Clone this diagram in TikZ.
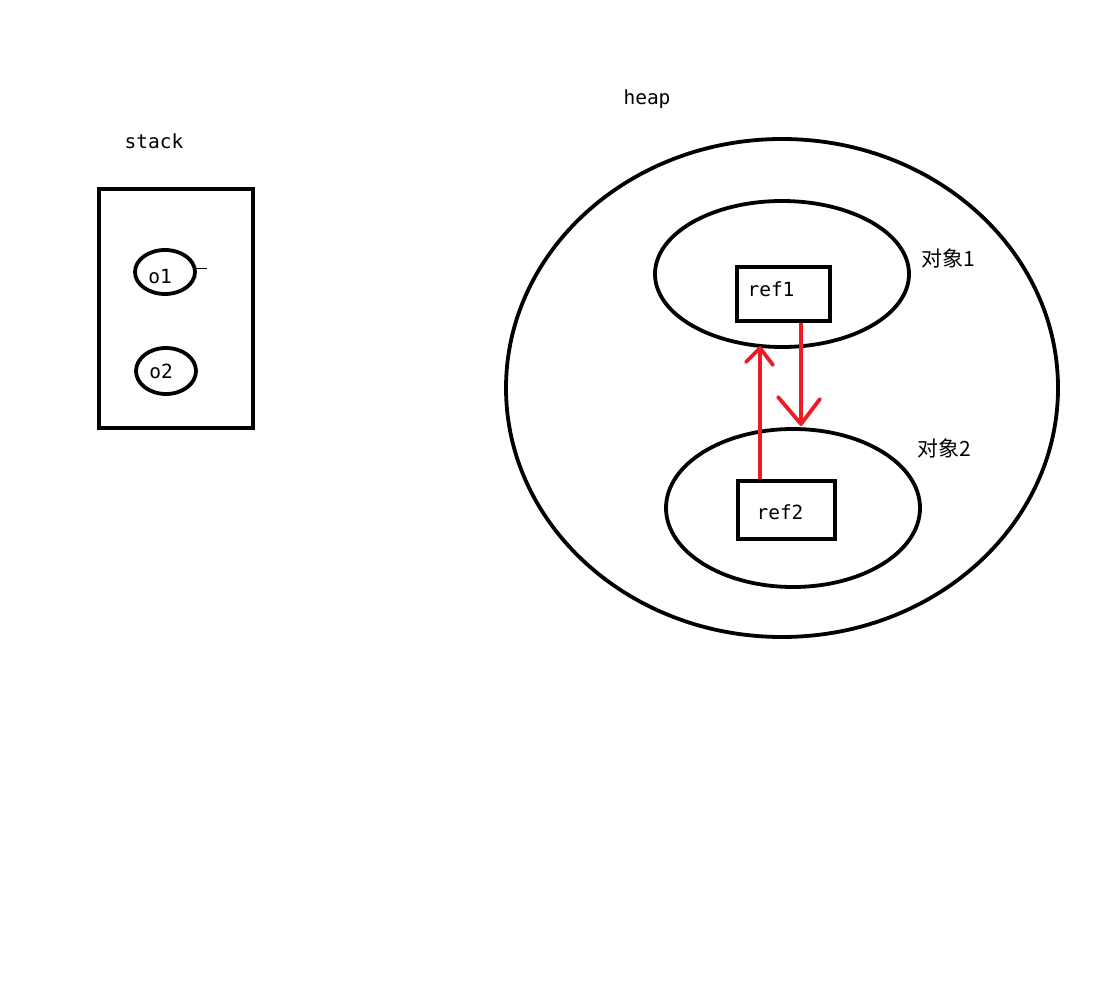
\documentclass[tikz,border=0pt]{standalone}
\usepackage{fontspec}
\setmonofont{DejaVu Sans Mono}
\newfontfamily\cjk{Noto Sans CJK SC}
\definecolor{pred}{RGB}{237,28,36}
\begin{document}
\begin{tikzpicture}[x=1pt,y=-1pt,
  thick box/.style={draw=black,line width=3.8pt},
  lbl/.style={font=\fontsize{19.5}{21}\selectfont\ttfamily,inner sep=0pt,anchor=center},
  clbl/.style={font=\fontsize{21}{23}\selectfont\cjk,inner sep=0pt,anchor=center},
  redarrow/.style={draw=pred,line width=3.8pt}]
\useasboundingbox[fill=white] (0,0) rectangle (1111,1000);
% stack
\node[lbl] (stacklbl) at (154,141) {stack};
\draw[thick box] (99,189) rectangle (253,428);
\draw[thick box] (165,272) ellipse [x radius=30, y radius=22];
\node[lbl] (o1) at (160,277) {o1};
\draw[line width=0.8pt] (194,268) -- (207,268);
\draw[thick box] (166,371) ellipse [x radius=30, y radius=23];
\node[lbl] (o2) at (161,371) {o2};
% heap
\node[lbl] (heaplbl) at (647,99) {heap};
\draw[thick box] (782,388) ellipse [x radius=276, y radius=249];
\draw[thick box] (782,274) ellipse [x radius=127, y radius=73];
\draw[thick box] (793,508) ellipse [x radius=127, y radius=79];
\node[thick box,minimum width=93,minimum height=54,inner sep=0pt] (ref1) at (783.5,294) {};
\node[lbl] at (771,289) {ref1};
\node[thick box,minimum width=97,minimum height=58,inner sep=0pt] (ref2) at (786.5,510) {};
\node[lbl] at (780,512) {ref2};
\node[clbl] (obj1) at (948,258) {对象1};
\node[clbl] (obj2) at (944,448) {对象2};
% red arrows
\coordinate (uptip) at (760,348);
\coordinate (downtip) at (801,424);
\draw[redarrow] (ref2.north -| uptip) -- (uptip);
\draw[redarrow,line cap=round,line join=round] (746,362) -- (uptip) -- (773,365);
\draw[redarrow] (ref1.south -| downtip) -- (downtip);
\draw[redarrow,line cap=round,line join=round] (778,397) -- (downtip) -- (820,399);
\end{tikzpicture}
\end{document}
